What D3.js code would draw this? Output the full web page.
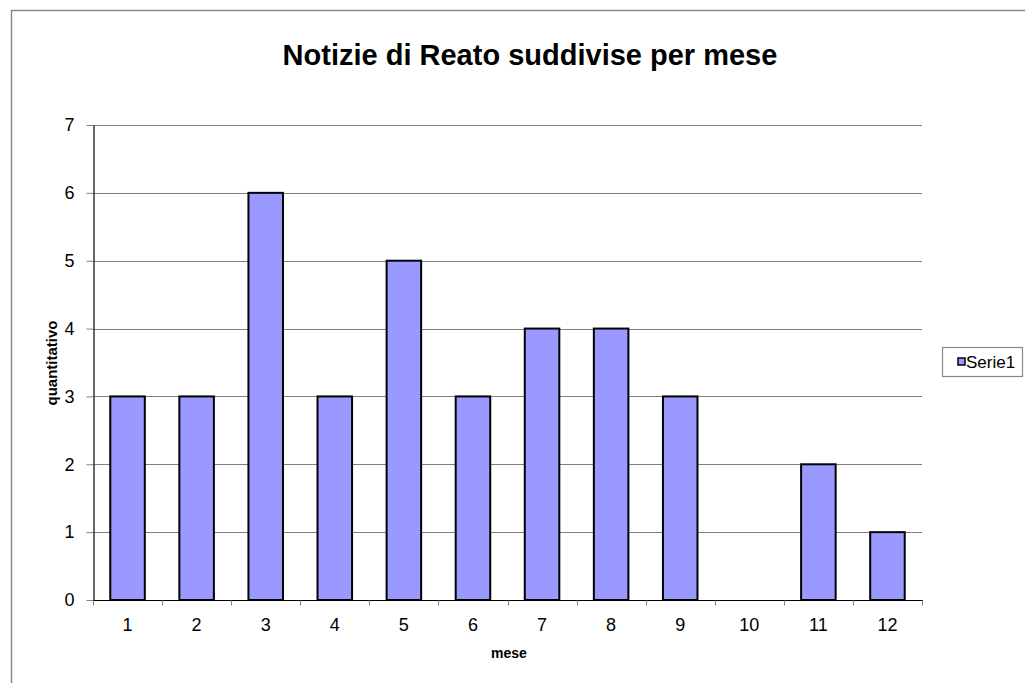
<!DOCTYPE html>
<html lang="it">
<head>
<meta charset="UTF-8">
<title>Notizie di Reato suddivise per mese</title>
<script src="https://cdn.jsdelivr.net/npm/d3@7"></script>
<style>
  body { margin: 0; background: #fff; }
  text { font-family: "Liberation Sans", Arial, sans-serif; }
</style>
</head>
<body>
<script>
// data
var mesi = ["1", "2", "3", "4", "5", "6", "7", "8", "9", "10", "11", "12"];
var serie1 = [3, 3, 6, 3, 5, 3, 4, 4, 3, 0, 2, 1];
var yTicks = [0, 1, 2, 3, 4, 5, 6, 7];

var W = 1025, H = 683;
var plotL = 93, plotR = 922, plotT = 125, plotB = 600;

var svg = d3.select("body").append("svg")
    .attr("width", W)
    .attr("height", H);

// outer chart border (only top and left are visible)
svg.append("path")
    .attr("d", "M11.5," + H + "V10.5H" + W)
    .attr("fill", "none")
    .attr("stroke", "#888")
    .attr("stroke-width", 1.5);

var x = d3.scaleBand()
    .domain(mesi)
    .range([plotL, plotR])
    .paddingInner(0.5)
    .paddingOuter(0.25);

var y = d3.scaleLinear()
    .domain([0, 7])
    .range([plotB, plotT]);

// gridlines
svg.append("g")
    .selectAll("line")
    .data(yTicks.slice(1))
    .enter()
    .append("line")
      .attr("x1", plotL)
      .attr("x2", plotR)
      .attr("y1", function(d) { return Math.round(y(d)) + 0.5; })
      .attr("y2", function(d) { return Math.round(y(d)) + 0.5; })
      .attr("stroke", "#808080")
      .attr("stroke-width", 1);

// bars
var barData = mesi.map(function(m, i) { return { mese: m, val: serie1[i] }; })
    .filter(function(d) { return d.val > 0; });

svg.append("g")
    .selectAll("rect")
    .data(barData)
    .enter()
    .append("rect")
      .attr("x", function(d) { return x(d.mese); })
      .attr("y", function(d) { return y(d.val); })
      .attr("width", x.bandwidth())
      .attr("height", function(d) { return plotB - y(d.val); })
      .attr("fill", "#9999ff")
      .attr("stroke", "#000")
      .attr("stroke-width", 2);

// y axis
var yAxis = svg.append("g")
    .attr("transform", "translate(" + (plotL + 0.5) + ",0)")
    .call(d3.axisLeft(y).tickValues(yTicks).tickFormat(d3.format("d"))
        .tickSize(7).tickPadding(12).tickSizeOuter(0));
yAxis.select(".domain").attr("stroke", "#000").attr("stroke-width", 1.2);
yAxis.selectAll(".tick line").attr("stroke", "#808080");
yAxis.selectAll("text").attr("font-size", 18).attr("fill", "#000")
    .attr("font-family", "'Liberation Sans', Arial, sans-serif");

// x axis with ticks at category boundaries
var xAxisG = svg.append("g")
    .attr("transform", "translate(0," + (plotB + 0.5) + ")");
xAxisG.append("line")
    .attr("x1", plotL)
    .attr("x2", plotR + 1)
    .attr("stroke", "#000")
    .attr("stroke-width", 1.2);
var bounds = d3.range(mesi.length + 1).map(function(i) { return plotL + i * (plotR - plotL) / mesi.length; });
xAxisG.selectAll(".bt")
    .data(bounds)
    .enter()
    .append("line")
      .attr("class", "bt")
      .attr("x1", function(d) { return Math.round(d) + 0.5; })
      .attr("x2", function(d) { return Math.round(d) + 0.5; })
      .attr("y1", 0)
      .attr("y2", 5)
      .attr("stroke", "#808080");
xAxisG.selectAll(".lbl")
    .data(mesi)
    .enter()
    .append("text")
      .attr("class", "lbl")
      .attr("x", function(d) { return x(d) + x.bandwidth() / 2; })
      .attr("y", 30)
      .attr("text-anchor", "middle")
      .attr("font-size", 18)
      .text(function(d) { return d; });

// title
svg.append("text")
    .attr("x", 530)
    .attr("y", 65)
    .attr("text-anchor", "middle")
    .attr("font-size", 29)
    .attr("font-weight", "bold")
    .text("Notizie di Reato suddivise per mese");

// axis titles
svg.append("text")
    .attr("transform", "translate(57,363) rotate(-90)")
    .attr("text-anchor", "middle")
    .attr("font-size", 15)
    .attr("font-weight", "bold")
    .text("quantitativo");

svg.append("text")
    .attr("x", 509)
    .attr("y", 658)
    .attr("text-anchor", "middle")
    .attr("font-size", 14)
    .attr("font-weight", "bold")
    .text("mese");

// legend
var lg = svg.append("g");
lg.append("rect")
    .attr("x", 942.5)
    .attr("y", 347.5)
    .attr("width", 80)
    .attr("height", 29)
    .attr("fill", "#fff")
    .attr("stroke", "#888")
    .attr("stroke-width", 1.2);
lg.append("rect")
    .attr("x", 958)
    .attr("y", 358)
    .attr("width", 7)
    .attr("height", 7)
    .attr("fill", "#9999ff")
    .attr("stroke", "#000")
    .attr("stroke-width", 1.5);
lg.append("text")
    .attr("x", 966)
    .attr("y", 368)
    .attr("font-size", 17)
    .text("Serie1");
</script>
</body>
</html>
